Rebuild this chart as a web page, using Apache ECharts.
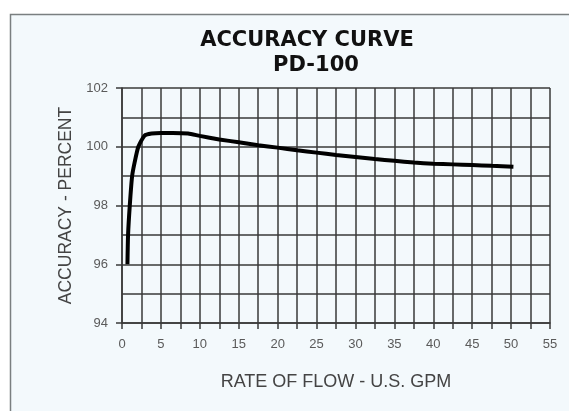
<!DOCTYPE html>
<html>
<head>
<meta charset="utf-8">
<script src="https://cdn.jsdelivr.net/npm/echarts@6/dist/echarts.min.js"></script>
<style>
	html, body { margin: 0; padding: 0; background: #ffffff; }
	#main { width: 569px; height: 411px; }
</style>
</head>
<body>
<div id="main"></div>
<script>
	// 曲线数据
	var flowRate = [0.7, 0.78, 1.0, 1.3, 1.65, 2.1, 2.9, 3.8, 5, 6.5, 8.5, 10, 12.5, 15, 17.5, 20, 22.5, 25, 27.5, 30, 32.5, 35, 37.5, 40, 42.5, 45, 47.5, 50.3];
	var accuracy = [96, 97, 98, 99, 99.5, 100, 100.38, 100.45, 100.47, 100.47, 100.45, 100.37, 100.25, 100.15, 100.05, 99.97, 99.88, 99.8, 99.72, 99.65, 99.58, 99.52, 99.46, 99.42, 99.4, 99.38, 99.35, 99.32];
	var xTicks = [0, 5, 10, 15, 20, 25, 30, 35, 40, 45, 50, 55];
	var yTicks = [94, 96, 98, 100, 102];

	var points = flowRate.map(function(x, i) {
		return [x, accuracy[i]];
	});

	var myChart = echarts.init(document.getElementById('main'));

	var gridColor = '#3a3a3a';
	var labelColor = '#5a5a5a';
	var nameColor = '#444';

	option = {
		backgroundColor: '#ffffff',
		animation: false,
		graphic: [{
			type: 'rect',
			shape: { x: 10.5, y: 14.5, width: 570, height: 410 },
			style: { fill: '#f3f9fc', stroke: '#7a7f80', lineWidth: 1.5 },
			z: -10
		}],
		title: [{
			text: 'ACCURACY CURVE',
			left: 302,
			top: 25,
			textAlign: 'center',
			textStyle: { fontFamily: 'DejaVu Sans', fontWeight: 'bold', fontSize: 21, color: '#111' }
		}, {
			text: 'PD-100',
			left: 311,
			top: 50,
			textAlign: 'center',
			textStyle: { fontFamily: 'DejaVu Sans', fontWeight: 'bold', fontSize: 21, color: '#111' }
		}],
		grid: {
			left: 122,
			top: 88,
			width: 428,
			height: 235
		},
		xAxis: {
			type: 'value',
			min: xTicks[0],
			max: xTicks[xTicks.length - 1],
			interval: 5,
			name: 'RATE OF FLOW - U.S. GPM',
			nameLocation: 'middle',
			nameGap: 50,
			nameTextStyle: { fontFamily: 'Liberation Sans', fontSize: 18, color: nameColor },
			axisLine: { show: true, lineStyle: { color: gridColor, width: 1.5 } },
			axisTick: { show: true, length: 6, lineStyle: { color: gridColor, width: 1.5 } },
			minorTick: { show: true, splitNumber: 2, length: 6, lineStyle: { color: gridColor, width: 1.5 } },
			axisLabel: { margin: 15, fontFamily: 'Liberation Sans', fontSize: 13, color: labelColor },
			splitLine: { show: true, lineStyle: { color: gridColor, width: 1.5 } },
			minorSplitLine: { show: true, lineStyle: { color: gridColor, width: 1.5 } }
		},
		yAxis: {
			type: 'value',
			min: yTicks[0],
			max: yTicks[yTicks.length - 1],
			interval: 2,
			name: 'ACCURACY - PERCENT',
			nameLocation: 'middle',
			nameGap: 44,
			nameTextStyle: { fontFamily: 'Liberation Sans', fontSize: 17.5, color: nameColor },
			axisLine: { show: true, lineStyle: { color: gridColor, width: 1.5 } },
			axisTick: { show: true, length: 6, lineStyle: { color: gridColor, width: 1.5 } },
			minorTick: { show: false, splitNumber: 2 },
			axisLabel: { margin: 14, fontFamily: 'Liberation Sans', fontSize: 13, color: labelColor },
			splitLine: { show: true, lineStyle: { color: gridColor, width: 1.5 } },
			minorSplitLine: { show: true, lineStyle: { color: gridColor, width: 1.5 } }
		},
		series: [{
			type: 'line',
			data: points,
			smooth: 0.2,
			showSymbol: false,
			lineStyle: { color: '#000', width: 4 },
			z: 5
		}]
	};

	myChart.setOption(option);
</script>
</body>
</html>
